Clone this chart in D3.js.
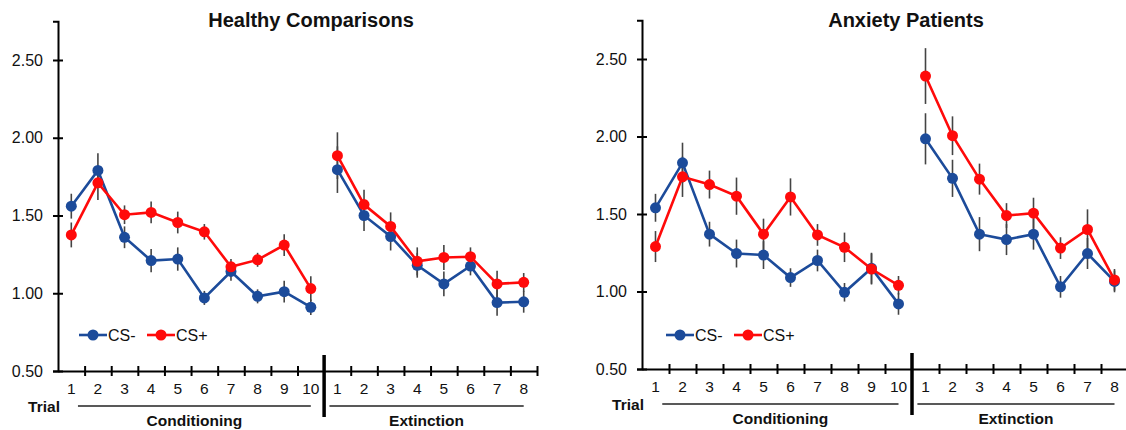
<!DOCTYPE html>
<html lang="en">
<head>
<meta charset="utf-8">
<title>CS- / CS+ by trial</title>
<script src="https://d3js.org/d3.v7.min.js"></script>
<style>
  body { margin: 0; background: #fff; }
  text { font-family: "Liberation Sans", Arial, sans-serif; fill: #111; }
</style>
</head>
<body>
<script>
// trial labels: 10 conditioning trials then 8 extinction trials
var trialLabels = ["1","2","3","4","5","6","7","8","9","10","1","2","3","4","5","6","7","8"];
var nCond = 10;
var yTicks = [0.5, 1.0, 1.5, 2.0, 2.5];
var seriesNames = ["CS-", "CS+"];

// Healthy Comparisons
var hcMinus   = [1.56,1.79,1.36,1.21,1.22,0.97,1.14,0.98,1.01,0.91, 1.795,1.50,1.365,1.18,1.06,1.175,0.94,0.945];
var hcMinusSE = [0.08,0.11,0.07,0.075,0.075,0.045,0.06,0.045,0.07,0.05, 0.15,0.10,0.09,0.08,0.08,0.06,0.085,0.07];
var hcPlus    = [1.375,1.71,1.505,1.52,1.455,1.395,1.17,1.215,1.31,1.03, 1.885,1.57,1.43,1.205,1.23,1.235,1.06,1.07];
var hcPlusSE  = [0.08,0.11,0.06,0.07,0.07,0.05,0.05,0.045,0.07,0.08, 0.15,0.095,0.09,0.09,0.08,0.06,0.085,0.06];

// Anxiety Patients
var axMinus   = [1.54,1.83,1.37,1.245,1.235,1.09,1.20,0.995,1.15,0.92, 1.985,1.73,1.37,1.335,1.37,1.03,1.245,1.065];
var axMinusSE = [0.09,0.13,0.08,0.09,0.09,0.06,0.07,0.06,0.10,0.07, 0.165,0.12,0.11,0.10,0.10,0.07,0.10,0.07];
var axPlus    = [1.29,1.74,1.69,1.615,1.37,1.61,1.365,1.285,1.145,1.04, 2.39,2.005,1.725,1.49,1.505,1.28,1.40,1.075];
var axPlusSE  = [0.10,0.13,0.09,0.12,0.10,0.12,0.07,0.095,0.10,0.06, 0.18,0.125,0.10,0.08,0.10,0.07,0.13,0.07];

var blue = "#1c4b9a", red = "#ff0a0a";

var svg = d3.select("body").append("svg")
  .attr("width", 1126).attr("height", 430);

var panels = [
  { title: "Healthy Comparisons", titleX: 311, x0: 58, x1: 537, yBot: 371, yTop: 60,
    minus: hcMinus, minusSE: hcMinusSE, plus: hcPlus, plusSE: hcPlusSE, legX: 79 },
  { title: "Anxiety Patients", titleX: 906, x0: 642, x1: 1128, yBot: 369, yTop: 59,
    minus: axMinus, minusSE: axMinusSE, plus: axPlus, plusSE: axPlusSE, legX: 666 }
];

panels.forEach(function(p) {
  var g = svg.append("g");
  var n = trialLabels.length;

  var x = d3.scaleLinear().domain([0, n]).range([p.x0, p.x1]);
  // 0.5 -> yBot, 2.5 -> yTop
  var y = d3.scaleLinear().domain([0.5, 2.5]).range([p.yBot, p.yTop]);
  var yAxisScale = y.copy().domain([0.5, 2.75]).range([p.yBot, y(2.75)]);

  // title
  g.append("text")
    .attr("x", p.titleX).attr("y", 27)
    .attr("text-anchor", "middle")
    .style("font-size", "20px").style("font-weight", "bold")
    .text(p.title);

  // y axis
  var yAxis = g.append("g")
    .attr("transform", "translate(" + p.x0 + ",0)")
    .call(d3.axisLeft(yAxisScale).tickValues(yTicks).tickFormat(d3.format(".2f")).tickSizeOuter(0).tickSize(5).tickPadding(10));
  yAxis.select(".domain").attr("stroke", "#000").attr("stroke-width", 2);
  yAxis.selectAll(".tick line").attr("x1", -5).attr("x2", 5).attr("stroke", "#000").attr("stroke-width", 2);
  yAxis.selectAll(".tick text").style("font-size", "16px").attr("fill", "#222")
    .style("font-family", '"Liberation Sans", Arial, sans-serif');

  // x axis with ticks at trial boundaries
  var bounds = d3.range(1, n + 1).filter(function(k) { return k !== nCond; });
  var xAxis = g.append("g")
    .attr("transform", "translate(0," + p.yBot + ")")
    .call(d3.axisBottom(x).tickValues(bounds).tickFormat("").tickSizeOuter(0));
  xAxis.select(".domain").attr("stroke", "#000").attr("stroke-width", 2);
  xAxis.selectAll(".tick line").attr("y1", -5).attr("y2", 5).attr("stroke", "#000").attr("stroke-width", 2);

  // trial number labels
  g.selectAll(".trial").data(trialLabels).enter().append("text")
    .attr("x", function(d, i) { return x(i + 0.5); })
    .attr("y", p.yBot + 23)
    .attr("text-anchor", "middle")
    .style("font-size", "15.5px").attr("fill", "#222")
    .text(function(d) { return d; });

  // divider between conditioning and extinction
  g.append("line")
    .attr("x1", x(nCond)).attr("x2", x(nCond))
    .attr("y1", p.yBot - 16).attr("y2", p.yBot + 46)
    .attr("stroke", "#000").attr("stroke-width", 3.5);

  g.append("text")
    .attr("x", p.x0 + 2).attr("y", p.yBot + 41)
    .attr("text-anchor", "end")
    .style("font-size", "15.5px").style("font-weight", "bold")
    .text("Trial");

  // phase underlines + labels
  var phases = [
    { name: "Conditioning", a: x(0.75), b: x(nCond - 0.5) },
    { name: "Extinction", a: x(nCond + 0.2), b: x(n - 0.5) }
  ];
  phases.forEach(function(ph) {
    g.append("line")
      .attr("x1", ph.a).attr("x2", ph.b)
      .attr("y1", p.yBot + 35).attr("y2", p.yBot + 35)
      .attr("stroke", "#222").attr("stroke-width", 1.3);
    g.append("text")
      .attr("x", (ph.a + ph.b) / 2).attr("y", p.yBot + 55)
      .attr("text-anchor", "middle")
      .style("font-size", "15.5px").style("font-weight", "bold")
      .text(ph.name);
  });

  var series = [
    { vals: p.minus, se: p.minusSE, color: blue },
    { vals: p.plus, se: p.plusSE, color: red }
  ];

  // error bars
  series.forEach(function(s) {
    g.selectAll(null).data(s.vals).enter().append("line")
      .attr("x1", function(d, i) { return x(i + 0.5); })
      .attr("x2", function(d, i) { return x(i + 0.5); })
      .attr("y1", function(d, i) { return y(d + s.se[i]); })
      .attr("y2", function(d, i) { return y(d - s.se[i]); })
      .attr("stroke", "#444").attr("stroke-width", 1.6);
  });

  var line = d3.line()
    .x(function(d) { return x(d.i + 0.5); })
    .y(function(d) { return y(d.v); });

  series.forEach(function(s) {
    var pts = s.vals.map(function(v, i) { return { i: i, v: v }; });
    [pts.slice(0, nCond), pts.slice(nCond)].forEach(function(seg) {
      g.append("path").datum(seg)
        .attr("d", line)
        .attr("fill", "none")
        .attr("stroke", s.color).attr("stroke-width", 2.6);
    });
    g.selectAll(null).data(pts).enter().append("circle")
      .attr("cx", function(d) { return x(d.i + 0.5); })
      .attr("cy", function(d) { return y(d.v); })
      .attr("r", 5.5)
      .attr("fill", s.color);
  });

  // legend
  var ly = 335;
  seriesNames.forEach(function(name, k) {
    var lx = p.legX + k * 68;
    var c = k === 0 ? blue : red;
    g.append("line")
      .attr("x1", lx).attr("x2", lx + 28)
      .attr("y1", ly).attr("y2", ly)
      .attr("stroke", c).attr("stroke-width", 2.6);
    g.append("circle").attr("cx", lx + 14).attr("cy", ly).attr("r", 5.5).attr("fill", c);
    g.append("text")
      .attr("x", lx + 29).attr("y", ly + 6)
      .style("font-size", "16px").attr("fill", "#222")
      .text(name);
  });
});
</script>
</body>
</html>
